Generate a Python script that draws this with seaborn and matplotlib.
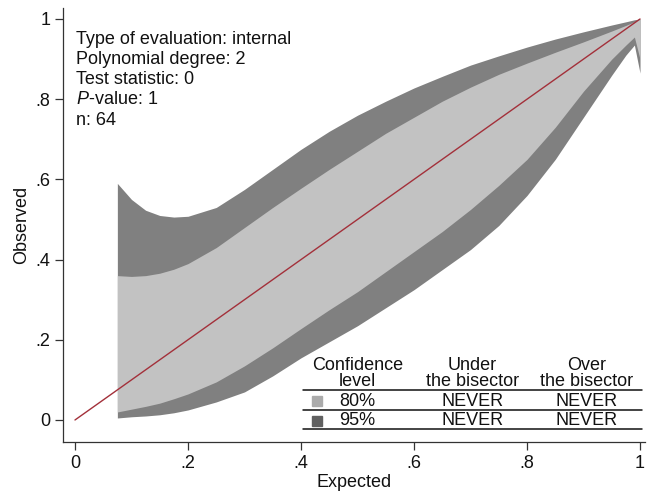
import numpy as np
import pandas as pd
import matplotlib
matplotlib.use("Agg")
import matplotlib.pyplot as plt
import seaborn as sns

# ---------------- data ----------------
grid_x = [0.075, 0.1, 0.125, 0.15, 0.175, 0.2, 0.25, 0.3, 0.35, 0.4, 0.45, 0.5,
          0.55, 0.6, 0.65, 0.7, 0.75, 0.8, 0.85, 0.9, 0.95, 0.975, 0.99, 1.0]
upper_95 = [0.59, 0.55, 0.523, 0.51, 0.506, 0.508, 0.53, 0.575, 0.625, 0.675, 0.72, 0.76,
            0.795, 0.828, 0.857, 0.885, 0.908, 0.93, 0.95, 0.968, 0.985, 0.993, 0.998, 1.0]
upper_80 = [0.36, 0.358, 0.36, 0.366, 0.376, 0.39, 0.43, 0.48, 0.53, 0.578, 0.625, 0.67,
            0.715, 0.755, 0.795, 0.83, 0.862, 0.89, 0.917, 0.943, 0.97, 0.984, 0.993, 1.0]
lower_80 = [0.02, 0.027, 0.034, 0.042, 0.053, 0.065, 0.095, 0.135, 0.18, 0.228, 0.275, 0.32,
            0.37, 0.42, 0.47, 0.525, 0.585, 0.65, 0.73, 0.82, 0.9, 0.935, 0.955, 0.9]
lower_95 = [0.005, 0.008, 0.01, 0.013, 0.018, 0.025, 0.045, 0.07, 0.11, 0.155, 0.195, 0.235,
            0.28, 0.325, 0.375, 0.425, 0.485, 0.56, 0.65, 0.755, 0.86, 0.91, 0.935, 0.865]

bisector_x = [0.0, 1.0]
bisector_y = [0.0, 1.0]

tick_values = [0, 0.2, 0.4, 0.6, 0.8, 1.0]
tick_labels = ["0", ".2", ".4", ".6", ".8", "1"]

info_lines = ["Type of evaluation: internal", "Polynomial degree: 2",
              "Test statistic: 0", "$P$-value: 1", "n: 64"]

table_header_1 = ["Confidence", "Under", "Over"]
table_header_2 = ["level", "the bisector", "the bisector"]
conf_levels = ["80%", "95%"]
under_bisector = ["NEVER", "NEVER"]
over_bisector = ["NEVER", "NEVER"]

# ---------------- style ----------------
sns.set_theme(style="ticks")
plt.rcParams["font.family"] = ["Liberation Sans", "DejaVu Sans"]
plt.rcParams["mathtext.fontset"] = "custom"
plt.rcParams["mathtext.rm"] = "Liberation Sans"
plt.rcParams["mathtext.it"] = "Liberation Sans:italic"

FS = 13
LIGHT = "#c2c2c2"
DARK = "#808080"
LIGHT_MK = "#ababab"
DARK_MK = "#606060"
RED = "#a3303a"

fig = plt.figure(figsize=(6.48, 4.92), dpi=100)
ax = fig.add_axes([63 / 648, 1 - 442 / 492, 582 / 648, 434 / 492])

ax.fill_between(grid_x, lower_95, upper_95, color=DARK, linewidth=0, zorder=1)
ax.fill_between(grid_x, lower_80, upper_80, color=LIGHT, linewidth=0, zorder=2)

line_df = pd.DataFrame({"Expected": bisector_x, "Observed": bisector_y})
sns.lineplot(data=line_df, x="Expected", y="Observed", ax=ax, color=RED,
             linewidth=1.0, zorder=3)

ax.set_xlim(-0.0212, 1.0088)
ax.set_ylim(-0.0549, 1.0274)
ax.set_xticks(tick_values)
ax.set_xticklabels(tick_labels)
ax.set_yticks(tick_values)
ax.set_yticklabels(tick_labels)
ax.tick_params(axis="both", length=6, width=0.9, color="#333333",
               labelsize=FS, labelcolor="#111111", pad=3)
sns.despine(ax=ax)
for s in ["left", "bottom"]:
    ax.spines[s].set_linewidth(0.9)
    ax.spines[s].set_color("#333333")

ax.set_xlabel("Expected", fontsize=FS, color="#111111", labelpad=2)
ax.set_ylabel("Observed", fontsize=FS, color="#111111", labelpad=4)

# info text
info_y = [0.948, 0.898, 0.848, 0.798, 0.748]
for t, yy in zip(info_lines, info_y):
    ax.text(0.002, yy, t, fontsize=FS, ha="left", va="center", color="#111111")

# table
col_x = [0.50, 0.703, 0.906]
for cx, h1, h2 in zip(col_x, table_header_1, table_header_2):
    ax.text(cx, 0.137, h1, fontsize=FS, ha="center", va="center", color="#111111")
    ax.text(cx, 0.095, h2, fontsize=FS, ha="center", va="center", color="#111111")

row_y = [0.047, -0.002]
marker_cols = [LIGHT_MK, DARK_MK]
for ry, lvl, u, o, mc in zip(row_y, conf_levels, under_bisector, over_bisector, marker_cols):
    ax.plot([0.428], [ry], marker="s", markersize=7, color=mc, linestyle="none",
            clip_on=False)
    ax.text(0.50, ry, lvl, fontsize=FS, ha="center", va="center", color="#111111")
    ax.text(col_x[1], ry, u, fontsize=FS, ha="center", va="center", color="#111111")
    ax.text(col_x[2], ry, o, fontsize=FS, ha="center", va="center", color="#111111")

for ly in [0.0748, 0.0249, -0.0237]:
    ax.plot([0.4035, 1.0035], [ly, ly], color="#111111", linewidth=1.1, clip_on=False)

fig.savefig("out.png", dpi=100)
